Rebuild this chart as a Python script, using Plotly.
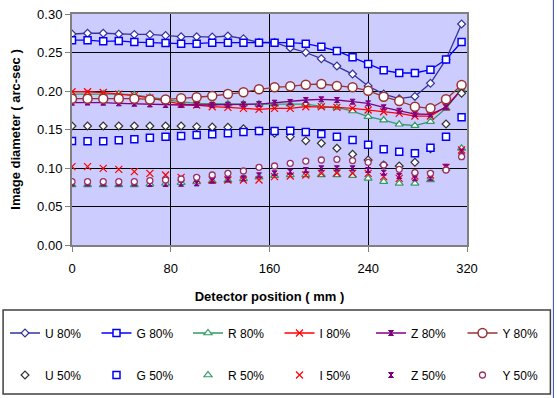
import plotly.graph_objects as go

positions = [0, 12.6, 25.3, 37.9, 50.5, 63.1, 75.8, 88.4, 101.0, 113.6, 126.3, 138.9, 151.5,
             164.1, 176.8, 189.4, 202.0, 214.6, 227.3, 239.9, 252.5, 265.1, 277.8, 290.4, 303.0, 315.6]

u80 = [0.274, 0.275, 0.275, 0.274, 0.2735, 0.2735, 0.272, 0.2705, 0.2705, 0.270, 0.2714, 0.268, 0.263,
       0.263, 0.256, 0.250, 0.242, 0.2325, 0.222, 0.2065, 0.196, 0.190, 0.193, 0.210, 0.241, 0.287]
g80 = [0.266, 0.266, 0.2645, 0.265, 0.2636, 0.2627, 0.2623, 0.2614, 0.2614, 0.2627, 0.2627, 0.2627, 0.2627,
       0.2627, 0.2627, 0.2614, 0.2574, 0.252, 0.2437, 0.235, 0.2269, 0.2234, 0.2234, 0.2277, 0.241, 0.2636]
r80 = [0.196, 0.196, 0.196, 0.196, 0.195, 0.192, 0.189, 0.186, 0.184, 0.1835, 0.183, 0.183, 0.183,
       0.183, 0.183, 0.183, 0.180, 0.1788, 0.174, 0.1667, 0.1623, 0.1568, 0.155, 0.1602, 0.1775, 0.2022]
i80 = [0.199, 0.199, 0.198, 0.196, 0.194, 0.191, 0.187, 0.183, 0.1818, 0.1796, 0.1788, 0.1775, 0.1762,
       0.1775, 0.1775, 0.1796, 0.1796, 0.1788, 0.1775, 0.1753, 0.1731, 0.171, 0.1675, 0.1675, 0.1796, 0.2022]
z80 = [0.1848, 0.1850, 0.1848, 0.184, 0.1835, 0.1826, 0.1818, 0.1818, 0.1818, 0.1818, 0.1822, 0.1826, 0.183,
       0.1848, 0.1857, 0.1883, 0.1892, 0.1883, 0.1861, 0.184, 0.1788, 0.1744, 0.1701, 0.1697, 0.1788, 0.2022]
y80 = [0.190, 0.190, 0.190, 0.190, 0.190, 0.189, 0.189, 0.1905, 0.192, 0.1935, 0.196, 0.1983, 0.2022,
       0.2048, 0.2061, 0.2082, 0.2091, 0.2065, 0.2048, 0.2004, 0.1926, 0.187, 0.1796, 0.1775, 0.1892, 0.2078]

u50 = [0.1545, 0.1545, 0.1545, 0.1545, 0.1545, 0.1545, 0.1545, 0.1545, 0.1537, 0.1532, 0.1528, 0.151, 0.148,
       0.145, 0.1407, 0.1355, 0.1321, 0.1256, 0.1178, 0.1104, 0.104, 0.1026, 0.1074, 0.125, 0.1571, 0.197]
g50 = [0.135, 0.1347, 0.1347, 0.136, 0.1373, 0.1394, 0.1407, 0.1416, 0.1429, 0.1437, 0.145, 0.1468, 0.148,
       0.148, 0.1485, 0.1468, 0.1442, 0.1407, 0.1364, 0.1303, 0.1243, 0.1212, 0.119, 0.1264, 0.1407, 0.1658]
r50 = [0.078, 0.078, 0.078, 0.078, 0.078, 0.079, 0.080, 0.081, 0.082, 0.083, 0.084, 0.086, 0.088,
       0.090, 0.091, 0.091, 0.091, 0.091, 0.090, 0.0866, 0.0822, 0.080, 0.080, 0.0844, 0.099, 0.1256]
i50 = [0.1017, 0.1017, 0.0996, 0.0983, 0.0952, 0.0931, 0.0909, 0.0879, 0.0853, 0.0844, 0.0844, 0.0844, 0.0844,
       0.0887, 0.0896, 0.0909, 0.0931, 0.0935, 0.093, 0.0931, 0.0887, 0.0866, 0.0896, 0.0909, 0.1009, 0.1234]
z50 = [0.080, 0.080, 0.080, 0.080, 0.080, 0.0792, 0.0792, 0.0795, 0.080, 0.0835, 0.0853, 0.0866, 0.0905,
       0.0931, 0.0952, 0.0974, 0.0996, 0.0996, 0.0996, 0.0974, 0.0939, 0.0896, 0.0866, 0.0866, 0.1017, 0.1212]
y50 = [0.0822, 0.0822, 0.0822, 0.0822, 0.0822, 0.0835, 0.0844, 0.0857, 0.0879, 0.0909, 0.0931, 0.0961, 0.1009,
       0.1026, 0.1061, 0.109, 0.1104, 0.1113, 0.1096, 0.1074, 0.1039, 0.0983, 0.0939, 0.0931, 0.0974, 0.1147]

FONT = "Arial, Liberation Sans, sans-serif"

fig = go.Figure()

lines80 = [
    ("U 80%", u80, "#333399", dict(symbol="diamond", size=6, color="white", line=dict(color="#333399", width=1.2))),
    ("G 80%", g80, "#0000FF", dict(symbol="square", size=7, color="white", line=dict(color="#0000FF", width=1.5))),
    ("R 80%", r80, "#339966", dict(symbol="triangle-up", size=7, color="white", line=dict(color="#339966", width=1.2))),
    ("I 80%", i80, "#FF0000", dict(symbol="x-thin-open", size=7, color="#FF0000", line=dict(color="#FF0000", width=1.2))),
    ("Z 80%", z80, "#800080", dict(symbol="hourglass", size=5, color="#800080", line=dict(color="#800080", width=1))),
    ("Y 80%", y80, "#993333", dict(symbol="circle", size=9, color="white", line=dict(color="#993333", width=1.5))),
]
for k, (name, vals, col, mk) in enumerate(lines80):
    fig.add_trace(go.Scatter(x=positions, y=vals, name=name, mode="lines+markers",
                             line=dict(color=col, width=1.3), marker=mk,
                             legend="legend" if k < 3 else "legend2"))

pts50 = [
    ("U 50%", u50, dict(symbol="diamond", size=6, color="white", line=dict(color="#333333", width=1.2))),
    ("G 50%", g50, dict(symbol="square", size=7, color="white", line=dict(color="#0000FF", width=1.5))),
    ("R 50%", r50, dict(symbol="triangle-up", size=7, color="white", line=dict(color="#339966", width=1.2))),
    ("I 50%", i50, dict(symbol="x-thin-open", size=7, color="#FF0000", line=dict(color="#FF3333", width=1.2))),
    ("Z 50%", z50, dict(symbol="hourglass", size=5, color="#800080", line=dict(color="#800080", width=1))),
    ("Y 50%", y50, dict(symbol="circle", size=6, color="white", line=dict(color="#993366", width=1.3))),
]
for k, (name, vals, mk) in enumerate(pts50):
    fig.add_trace(go.Scatter(x=positions, y=vals, name=name, mode="markers", marker=mk,
                             legend="legend3" if k < 3 else "legend4"))

axis_common = dict(showgrid=True, gridcolor="black", gridwidth=1, zeroline=False,
                   showline=True, linecolor="#808080", linewidth=2, mirror=True,
                   ticks="outside", ticklen=5, tickcolor="#808080", automargin=False,
                   tickfont=dict(family=FONT, size=13, color="black"))

fig.update_xaxes(range=[0, 320], tick0=0, dtick=80, ticklabelstandoff=5,
                 title=dict(text="<b>Detector position ( mm )</b>", font=dict(family=FONT, size=13, color="black"),
                            standoff=17),
                 **axis_common)
fig.update_yaxes(range=[0, 0.30], tick0=0, dtick=0.05, tickformat=".2f",
                 title=dict(text="<b>Image diameter ( arc-sec )</b>", font=dict(family=FONT, size=13, color="black"),
                            standoff=14),
                 **axis_common)

leg_common = dict(orientation="h", xref="container", yref="container", xanchor="left", yanchor="middle",
                  entrywidth=46.5, entrywidthmode="pixels", bgcolor="rgba(0,0,0,0)",
                  font=dict(family=FONT, size=12, color="black"), itemclick=False, itemdoubleclick=False)

row1 = (398 - 333) / 398
row2 = (398 - 375) / 398
x_left = 5 / 557
x_right = (274.5 + 5) / 557

fig.update_layout(
    width=557, height=398,
    margin=dict(l=72, r=90, t=14, b=153),
    plot_bgcolor="#CCCCFF", paper_bgcolor="white",
    font=dict(family=FONT, color="black"),
    legend=dict(x=x_left, y=row1, **leg_common),
    legend2=dict(x=x_right, y=row1, **leg_common),
    legend3=dict(x=x_left, y=row2, **leg_common),
    legend4=dict(x=x_right, y=row2, **leg_common),
    shapes=[
        dict(type="rect", xref="paper", yref="paper", x0=(3 - 72) / 395.5, x1=(551 - 72) / 395.5,
             y0=(245 - 394) / 231, y1=(245 - 310) / 231, line=dict(color="#404040", width=1.5)),
        dict(type="line", xref="paper", yref="paper", x0=(554 - 72) / 395.5, x1=(554 - 72) / 395.5,
             y0=(245 - 398) / 231, y1=(245 - 0) / 231, line=dict(color="#3344bb", width=1)),
    ],
)

fig.write_html("out.html", config={"displayModeBar": False},
               post_script="document.body.style.margin='0';")
